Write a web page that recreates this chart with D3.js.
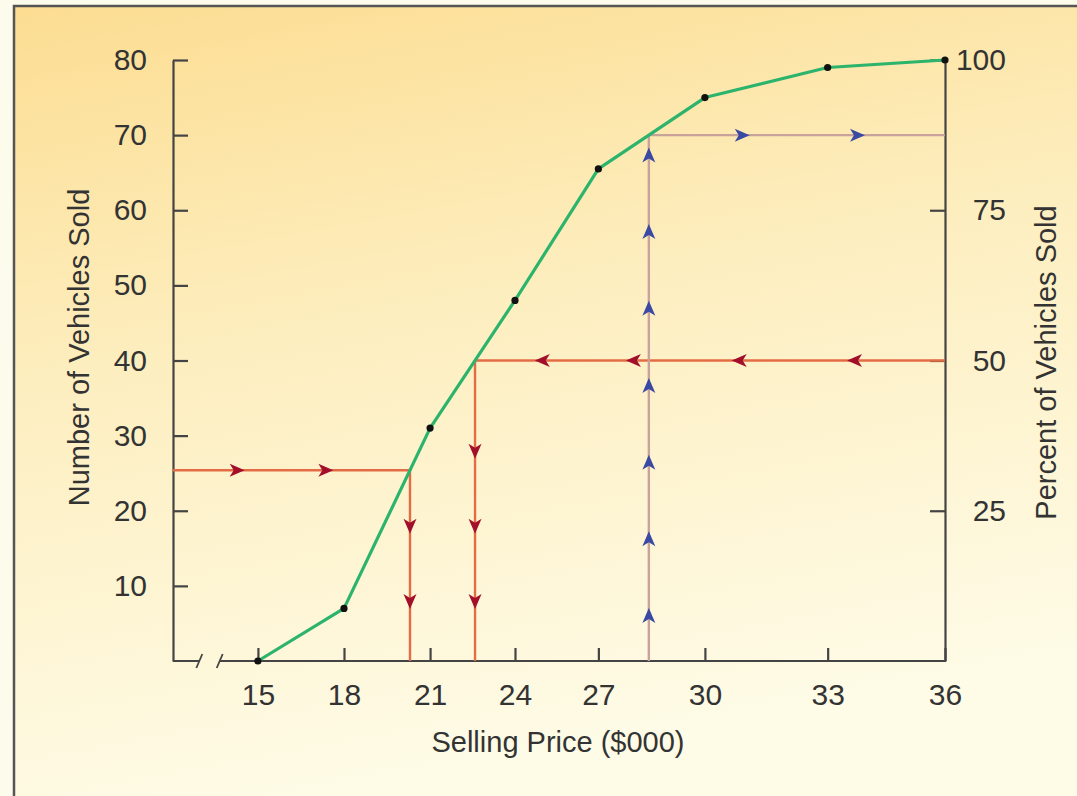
<!DOCTYPE html>
<html>
<head>
<meta charset="utf-8">
<script src="https://cdn.jsdelivr.net/npm/d3@7"></script>
<style>
  html, body { margin: 0; padding: 0; background: #fdfcec; }
  svg { display: block; }
  text { font-family: "Liberation Sans", Arial, Helvetica, sans-serif; fill: #333; }
</style>
</head>
<body>
<svg id="chart" width="1077" height="796"></svg>
<script>
// Ogive of vehicle selling prices: cumulative number sold below each price
const prices = [15, 18, 21, 24, 27, 30, 33, 36];          // upper class limits, $000
const cumulativeSold = [0, 7, 31, 48, 65.5, 75, 79, 80];   // vehicles sold below that price
const countTicks = [10, 20, 30, 40, 50, 60, 70, 80];
const percentTicks = [25, 50, 75, 100];
const priceTicks = [15, 18, 21, 24, 27, 30, 33, 36];

// Reading guides drawn against the curve
const lowerReadCount = 25.4;            // read across from the count axis, then down
const lowerAcrossArrows = [14.25, 17.35];
const lowerDownArrows = [18, 8];

const medianCount = 40;
const medianAcrossArrows = [33.7, 30.85, 28, 25];
const medianDownArrows = [28, 18, 8];

const upperReadCount = 70;              // read up from the price axis, then across
const upperUpArrows = [6, 16.2, 26.4, 36.6, 46.9, 57.1, 67.3];
const upperAcrossArrows = [30.9, 33.75];

const totalSold = 80;

const svg = d3.select("#chart");
const W = 1077, H = 796;
const plot = { left: 173, right: 945, top: 60, bottom: 661 };
const plotW = plot.right - plot.left;

// Background panel with warm gradient
const defs = svg.append("defs");
const grad = defs.append("linearGradient").attr("id", "bg")
  .attr("x1", "0").attr("y1", "0").attr("x2", "0.25").attr("y2", "1");
grad.append("stop").attr("offset", "0").attr("stop-color", "#fcdd92");
grad.append("stop").attr("offset", "0.45").attr("stop-color", "#fdeebf");
grad.append("stop").attr("offset", "1").attr("stop-color", "#fefbe6");

svg.append("rect").attr("x", 0).attr("y", 0).attr("width", W).attr("height", H).attr("fill", "#fdfcec");
svg.append("rect").attr("x", 15).attr("y", 7).attr("width", W - 15).attr("height", H - 7).attr("fill", "url(#bg)");
svg.append("path")
  .attr("d", `M14,${H} L14,6 L${W},6`)
  .attr("fill", "none").attr("stroke", "#555").attr("stroke-width", 2.5);

// Price axis: the printed axis spacing widens toward the upper prices
const axisStart = 12;
const xStops = [0, 0.110, 0.2215, 0.333, 0.443, 0.551, 0.689, 0.848, 1];
const x = d3.scaleLinear()
  .domain([axisStart].concat(priceTicks))
  .range(xStops.map(f => plot.left + f * plotW));

const y = d3.scaleLinear().domain([0, totalSold]).range([plot.bottom, plot.top]);
const yPct = d3.scaleLinear().domain([0, 100]).range([plot.bottom, plot.top]);

// Inverse of the ogive: price at which a cumulative count is reached
const ogive = d3.scaleLinear().domain(cumulativeSold).range(prices);

const axisColor = "#444";
const tickFont = 30;
const titleFont = 29;

// Left axis
const gL = svg.append("g").attr("transform", `translate(${plot.left},0)`)
  .call(d3.axisLeft(y).tickValues(countTicks).tickSize(-15).tickSizeOuter(0).tickPadding(26));
// Right axis
const gR = svg.append("g").attr("transform", `translate(${plot.right},0)`)
  .call(d3.axisRight(yPct).tickValues(percentTicks).tickSize(-15).tickSizeOuter(0).tickPadding(10));
gR.selectAll(".tick text").attr("text-anchor", "end").attr("x", 61);
// Bottom axis (domain line drawn separately to show the break)
const gB = svg.append("g").attr("transform", `translate(0,${plot.bottom})`)
  .call(d3.axisBottom(x).tickValues(priceTicks).tickSize(-13).tickSizeOuter(0).tickPadding(23));
gB.select(".domain").remove();

[gL, gR, gB].forEach(g => {
  g.selectAll(".domain").attr("stroke", axisColor).attr("stroke-width", 2.2);
  g.selectAll(".tick line").attr("stroke", axisColor).attr("stroke-width", 2.2);
  g.selectAll(".tick text").style("font-size", tickFont + "px").attr("fill", "#333")
    .style("font-family", "'Liberation Sans', Arial, sans-serif");
});

// Bottom axis line with a scale break between the origin and 15
const x0 = x(axisStart), x15 = x(priceTicks[0]);
const b1 = x0 + (x15 - x0) * 0.31, b2 = x0 + (x15 - x0) * 0.55;
svg.append("path")
  .attr("d", `M${x0},${plot.bottom} L${b1},${plot.bottom} M${b2},${plot.bottom} L${plot.right + 1},${plot.bottom}`)
  .attr("fill", "none").attr("stroke", axisColor).attr("stroke-width", 2.2);
svg.append("g").selectAll("path").data([b1, b2]).join("path")
  .attr("d", d => `M${d - 3},${plot.bottom + 7} L${d + 3},${plot.bottom - 7}`)
  .attr("stroke", axisColor).attr("stroke-width", 1.8);

// Axis titles
svg.append("text").attr("transform", `translate(89,${(plot.top + plot.bottom) / 2 - 13}) rotate(-90)`)
  .attr("text-anchor", "middle").style("font-size", titleFont + "px").text("Number of Vehicles Sold");
svg.append("text").attr("transform", `translate(1056,${(plot.top + plot.bottom) / 2 + 2}) rotate(-90)`)
  .attr("text-anchor", "middle").style("font-size", titleFont + "px").text("Percent of Vehicles Sold");
svg.append("text").attr("x", 558).attr("y", 752)
  .attr("text-anchor", "middle").style("font-size", titleFont + "px").text("Selling Price ($000)");

// Guide lines and arrowheads
const red = "#e46c44", redHead = "#a20f2a";
const blue = "#c9a29c", blueHead = "#3a4aa3";
const arrowPath = "M8,0 L-7,-6.5 L-3,0 L-7,6.5 Z";
const gGuides = svg.append("g");

function seg(x1, y1, x2, y2, color) {
  gGuides.append("line").attr("x1", x1).attr("y1", y1).attr("x2", x2).attr("y2", y2)
    .attr("stroke", color).attr("stroke-width", 2.4);
}
function heads(points, angle, color) {
  gGuides.selectAll(null).data(points).join("path")
    .attr("d", arrowPath)
    .attr("transform", p => `translate(${p[0]},${p[1]}) rotate(${angle})`)
    .attr("fill", color);
}

// Lower reading: count axis -> curve -> price axis
{
  const px = x(ogive(lowerReadCount)), py = y(lowerReadCount);
  seg(plot.left, py, px, py, red);
  seg(px, py, px, plot.bottom, red);
  heads(lowerAcrossArrows.map(p => [x(p), py]), 0, redHead);
  heads(lowerDownArrows.map(c => [px, y(c)]), 90, redHead);
}
// Median reading: percent axis -> curve -> price axis
{
  const px = x(ogive(medianCount)), py = y(medianCount);
  seg(plot.right, py, px, py, red);
  seg(px, py, px, plot.bottom, red);
  heads(medianAcrossArrows.map(p => [x(p), py]), 180, redHead);
  heads(medianDownArrows.map(c => [px, y(c)]), 90, redHead);
}
// Upper reading: price axis -> curve -> percent axis
{
  const px = x(ogive(upperReadCount)), py = y(upperReadCount);
  seg(px, plot.bottom, px, py, blue);
  seg(px, py, plot.right, py, blue);
  heads(upperUpArrows.map(c => [px, y(c)]), -90, blueHead);
  heads(upperAcrossArrows.map(p => [x(p), py]), 0, blueHead);
}

// Ogive line and points
const line = d3.line().x((d, i) => x(prices[i])).y(d => y(d));
svg.append("path").datum(cumulativeSold)
  .attr("d", line).attr("fill", "none").attr("stroke", "#2cb36c").attr("stroke-width", 3.2)
  .attr("stroke-linejoin", "round");
svg.append("g").selectAll("circle").data(cumulativeSold).join("circle")
  .attr("cx", (d, i) => x(prices[i])).attr("cy", d => y(d)).attr("r", 3.6).attr("fill", "#111");
</script>
</body>
</html>
